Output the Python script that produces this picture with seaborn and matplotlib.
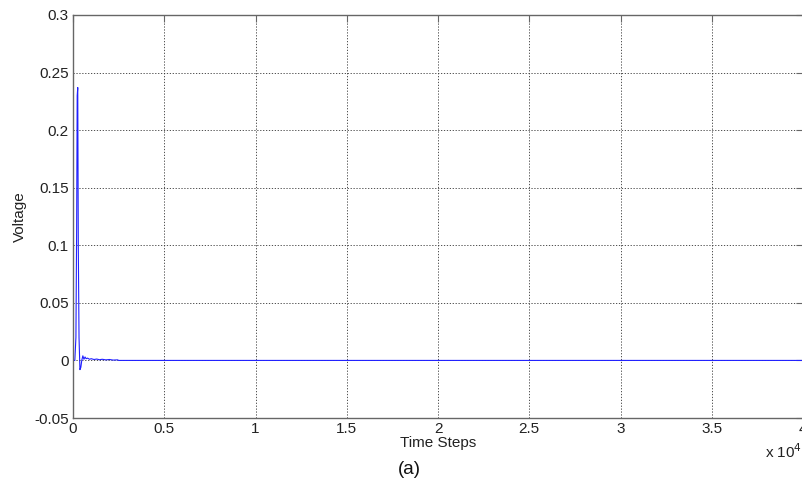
import numpy as np
import pandas as pd
import matplotlib
matplotlib.use("Agg")
import matplotlib.pyplot as plt
from matplotlib.ticker import FuncFormatter
import seaborn as sns

# Probe voltage versus simulation time step
time_steps = [0, 100, 160, 200, 230, 260, 290, 330, 380, 430, 480, 540, 600, 660,
              720, 800, 900, 1000, 1150, 1300, 1450, 1600, 1800, 2000, 2200, 2450,
              2500, 40000]
voltage = [0.0, 0.0, 0.02, 0.115, 0.23, 0.237, 0.10, 0.02, -0.008, -0.006, 0.0,
           0.004, 0.001, 0.003, 0.0015, 0.002, 0.001, 0.0015, 0.0008, 0.0012,
           0.0006, 0.001, 0.0005, 0.0008, 0.0003, 0.0005, 0.0, 0.0]

x_ticks = [0, 5000, 10000, 15000, 20000, 25000, 30000, 35000, 40000]
y_ticks = [-0.05, 0, 0.05, 0.1, 0.15, 0.2, 0.25, 0.3]

sns.set_style("white")
plt.rcParams["font.family"] = ["Liberation Sans", "DejaVu Sans"]

df = pd.DataFrame({"Time Steps": time_steps, "Voltage": voltage})

fig = plt.figure(figsize=(8.02, 4.87), dpi=100)
ax = fig.add_axes([73 / 802, 1 - 418 / 487, 730 / 802, 403 / 487])

sns.lineplot(data=df, x="Time Steps", y="Voltage", ax=ax, color="#2020ff",
             linewidth=0.8, estimator=None, sort=False)

ax.set_xlim(0, 40000)
ax.set_ylim(-0.05, 0.3)
ax.set_xticks(x_ticks)
ax.set_yticks(y_ticks)
ax.xaxis.set_major_formatter(FuncFormatter(lambda v, p: f"{v / 1e4:g}"))
ax.yaxis.set_major_formatter(FuncFormatter(lambda v, p: f"{v:g}"))

ax.grid(True, color="#333333", linestyle=(0, (1.5, 2)), linewidth=0.6)
for s in ax.spines.values():
    s.set_color("#666666")
    s.set_linewidth(1.0)
ax.tick_params(direction="in", length=5, width=0.8, color="#666666",
               labelsize=11, labelcolor="#222222", pad=3,
               top=True, right=True)

ax.set_xlabel("Time Steps", fontsize=11, color="#222222", labelpad=0)
ax.set_ylabel("Voltage", fontsize=11, color="#222222", labelpad=5)

fig.text(765 / 802, 1 - 452 / 487, r"x 10$^4$", fontsize=11, color="#222222",
         ha="left", va="center")
fig.text(409 / 802, 1 - 470 / 487, "(a)", fontsize=13.5, color="#111111",
         ha="center", va="center")

fig.savefig("out.png", dpi=100)
